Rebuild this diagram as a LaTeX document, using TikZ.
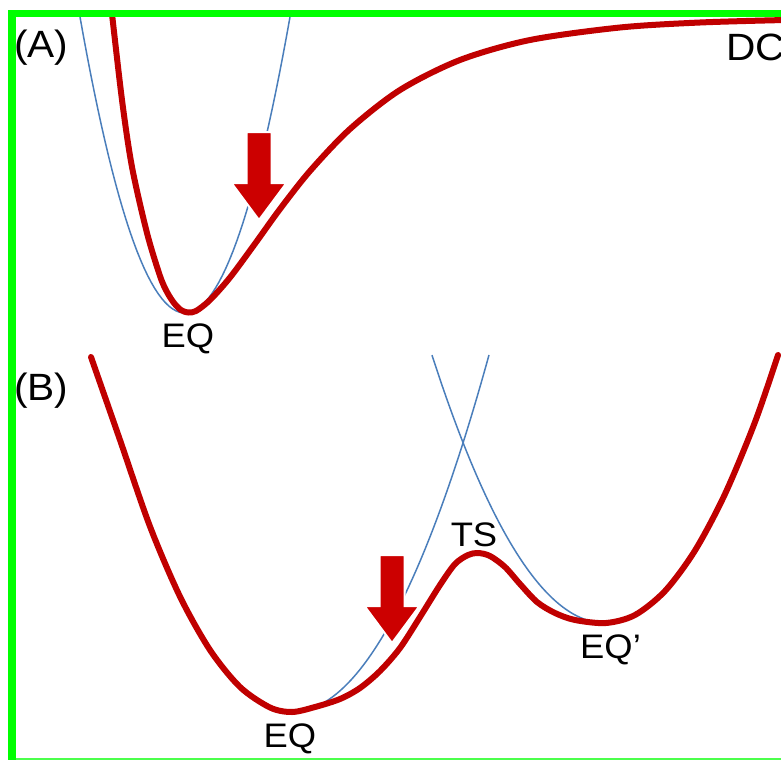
\documentclass[tikz,border=0pt]{standalone}
\usepackage{fontspec}
\setmainfont{Liberation Sans}[FakeStretch=1.07]
\usepackage{tikz}
\definecolor{frame}{HTML}{00FF00}
\definecolor{adiab}{HTML}{C00000}
\definecolor{diab}{HTML}{4A7EBB}
\definecolor{pointer}{HTML}{CC0000}

\begin{document}
\begin{tikzpicture}[x=1pt, y=-1pt,
  adiabcurve/.style={adiab, line width=6pt, line cap=round, line join=round},
  diabcurve/.style={diab, line width=1.5pt},
  statelbl/.style={font=\fontsize{34}{34}\selectfont, inner sep=0pt},
  panellbl/.style={font=\fontsize{38}{38}\selectfont, inner sep=0pt},
  downpointer/.pic={\filldraw[pointer, draw=white, line width=2pt] (0,0) -- (-27.5,-37) -- (-12.5,-37) -- (-12.5,-88) -- (12.5,-88) -- (12.5,-37) -- (27.5,-37) -- cycle;}]
  \useasboundingbox (0,0) rectangle (781,760);
  \fill[white] (0,0) rectangle (781,760);
  \begin{scope}
    \clip (16,17) rectangle (781,758);
    % (A) bound state and dissociation
    \draw[diabcurve] plot[domain=80:290, samples=60] (\x, {313-2.685*((\x-185)/10)^2});
    \draw[adiabcurve] plot[smooth] coordinates {(111,5) (122,100) (132,167) (147,233) (160,276) (167,292) (174,303) (181,310) (188,312.5) (196,311) (210,300) (230,277.5) (255,243.7) (280,209) (310,171) (350,129) (400,90) (460,60) (530,40) (620,27.5) (700,22.5) (785,20)};
    % (B) two minima through a transition state
    \draw[diabcurve] plot[domain=292:489, samples=50] (\x, {712-0.92*((\x-292)/10)^2});
    \draw[diabcurve] plot[domain=432:605, samples=50] (\x, {623-0.895*((\x-605)/10)^2});
    \draw[adiabcurve] plot[smooth] coordinates {(91,357) (120,440) (150,526.5) (180,596.6) (210,650) (240,687) (270,707.5) (292,712) (315,707) (340,699) (360,688) (380,671) (400,648) (420,617) (440,585) (455,564) (468,555) (478,553) (490,556) (505,567) (520,584) (537,602) (555,613) (575,620) (606,623) (635,615) (665,591) (695,550.5) (725,494) (755,422) (778,355)};
  \end{scope}
  \pic (ptrA) at (259,220) {downpointer};
  \pic (ptrB) at (392,643) {downpointer};
  % labels
  \node[panellbl, anchor=base west] (labA) at (14,58) {(A)};
  \node[panellbl, anchor=base west] (labDC) at (726,60) {DC};
  \node[statelbl, anchor=base] (eqA) at (188,347) {EQ};
  \node[panellbl, anchor=base west] (labB) at (14,400) {(B)};
  \node[statelbl, anchor=base] (ts) at (474,546) {TS};
  \node[statelbl, anchor=base west] (eqprime) at (580,658) {EQ'};
  \node[statelbl, anchor=base] (eqB) at (290,747) {EQ};
  % frame
  \fill[frame] (8,10) rectangle (781,17);
  \fill[frame] (8,10) rectangle (16,760);
  \fill[frame!70] (16,758) rectangle (781,760);
\end{tikzpicture}
\end{document}
